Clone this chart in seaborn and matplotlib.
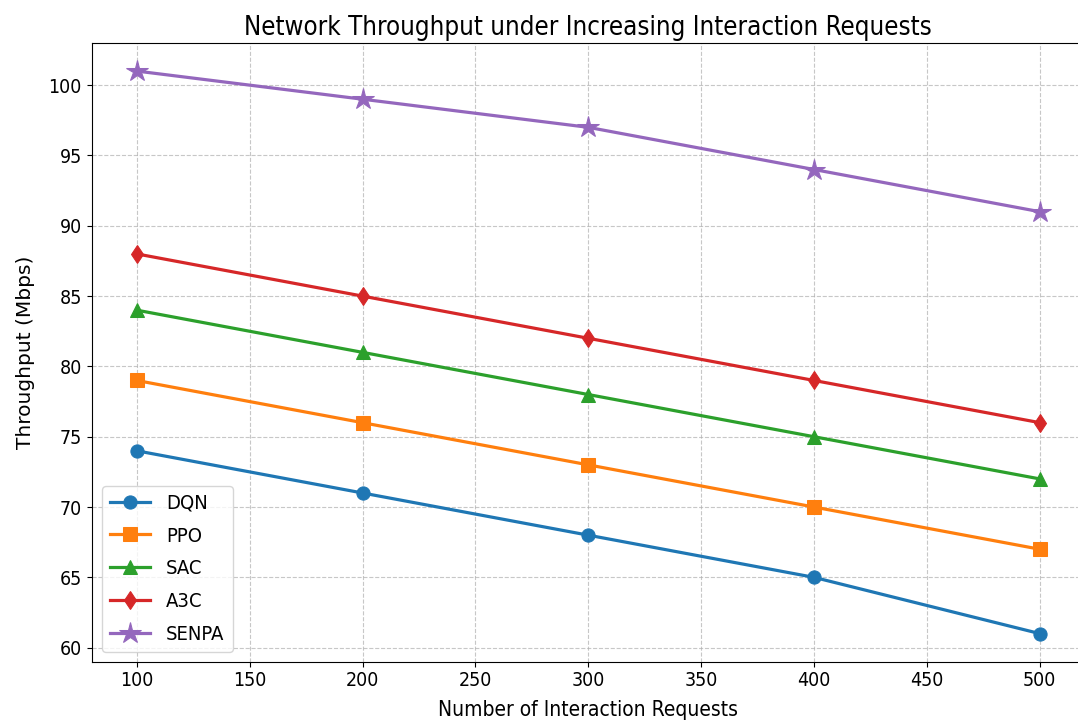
import pandas as pd
import seaborn as sns
import matplotlib.pyplot as plt

requests = [100, 200, 300, 400, 500]
dqn = [74, 71, 68, 65, 61]
ppo = [79, 76, 73, 70, 67]
sac = [84, 81, 78, 75, 72]
a3c = [88, 85, 82, 79, 76]
senpa = [101, 99, 97, 94, 91]

methods = ["DQN", "PPO", "SAC", "A3C", "SENPA"]
markers = ["o", "s", "^", "d", "*"]

rows = []
for name, vals in zip(methods, [dqn, ppo, sac, a3c, senpa]):
    for x, y in zip(requests, vals):
        rows.append({"Requests": x, "Throughput": y, "Method": name})
df = pd.DataFrame(rows)

# the reference looks horizontally squeezed, so use the condensed face
plt.rcParams["font.stretch"] = "condensed"

fig, ax = plt.subplots(figsize=(10.78, 7.28), dpi=100)
palette = sns.color_palette("tab10", 5)
for i, name in enumerate(methods):
    sub = df[df["Method"] == name]
    sns.lineplot(data=sub, x="Requests", y="Throughput", ax=ax, label=name,
                 color=palette[i], marker=markers[i],
                 markersize=16 if markers[i] == "*" else 9.5,
                 linewidth=2.3, markeredgecolor=palette[i])

ax.grid(True, linestyle="--", alpha=0.7)
ax.set_title("Network Throughput under Increasing Interaction Requests", fontsize=18.5)
ax.set_xlabel("Number of Interaction Requests", fontsize=15, labelpad=7)
ax.set_ylabel("Throughput (Mbps)", fontsize=14.5, fontstretch="normal", labelpad=10)
ax.tick_params(labelsize=14)
ax.legend(loc="lower left", fontsize=14.5, labelspacing=0.68)
fig.subplots_adjust(left=0.085, right=1.0065, top=0.941, bottom=0.091)
plt.savefig("out.png")
